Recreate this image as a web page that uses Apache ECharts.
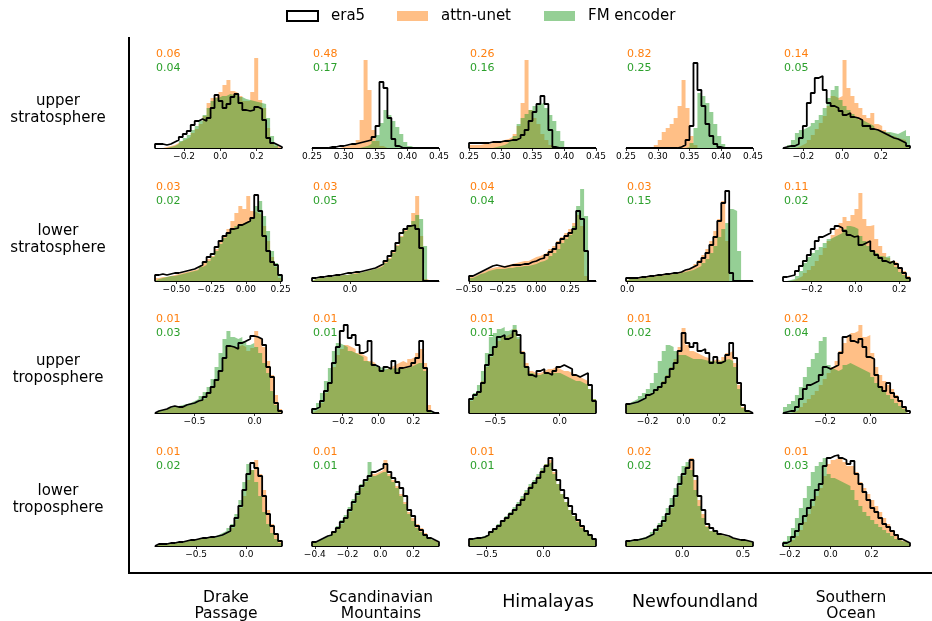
<!DOCTYPE html>
<html>
<head>
<meta charset="utf-8">
<script src="https://cdn.jsdelivr.net/npm/echarts@6/dist/echarts.min.js"></script>
<style>
  html, body { margin: 0; background: #fff; }
  #chart { width: 932px; height: 621px; }
</style>
</head>
<body>
<div id="chart"></div>
<script>
// columns / rows of the panel grid
const regions = ['Drake\nPassage', 'Scandinavian\nMountains', 'Himalayas', 'Newfoundland', 'Southern\nOcean'];
const levels = ['upper\nstratosphere', 'lower\nstratosphere', 'upper\ntroposphere', 'lower\ntroposphere'];
const seriesNames = ['era5', 'attn-unet', 'FM encoder'];

// x range of every panel (row by row), histogram bins span this range
const xRanges = [
  [-0.36, 0.34], [0.25, 0.45], [0.25, 0.45], [0.25, 0.45], [-0.305, 0.35],
  [-0.654, 0.26], [-0.19, 0.445], [-0.5, 0.443], [-0.005, 0.5], [-0.331, 0.249],
  [-0.828, 0.228], [-0.374, 0.345], [-0.703, 0.281], [-0.321, 0.389], [-0.388, 0.179],
  [-0.91, 0.357], [-0.417, 0.358], [-0.656, 0.462], [-0.462, 0.582], [-0.233, 0.388]
];

// tick labels of every panel
const tickLabels = [
  ['−0.2', '0.0', '0.2'], ['0.25', '0.30', '0.35', '0.40', '0.45'], ['0.25', '0.30', '0.35', '0.40', '0.45'], ['0.25', '0.30', '0.35', '0.40', '0.45'], ['−0.2', '0.0', '0.2'],
  ['−0.50', '−0.25', '0.00', '0.25'], ['0.0'], ['−0.50', '−0.25', '0.00', '0.25'], ['0.0'], ['−0.2', '0.0', '0.2'],
  ['−0.5', '0.0'], ['−0.2', '0.0', '0.2'], ['−0.5', '0.0'], ['−0.2', '0.0', '0.2'], ['−0.2', '0.0'],
  ['−0.5', '0.0'], ['−0.4', '−0.2', '0.0', '0.2'], ['−0.5', '0.0'], ['0.0', '0.5'], ['−0.2', '0.0', '0.2']
];

// scores printed in the corner of each panel
const unetScore = ['0.06', '0.48', '0.26', '0.82', '0.14', '0.03', '0.03', '0.04', '0.03', '0.11',
  '0.01', '0.01', '0.01', '0.01', '0.02', '0.01', '0.01', '0.01', '0.02', '0.01'];
const fmScore = ['0.04', '0.17', '0.16', '0.25', '0.05', '0.02', '0.05', '0.04', '0.15', '0.02',
  '0.03', '0.01', '0.01', '0.02', '0.04', '0.02', '0.01', '0.01', '0.02', '0.03'];

// histogram heights (32 bins per panel, scale 0-100 of the panel height)
const era5Hist = [
  [4,4,3,4,6,8,11,14,17,23,27,29,27,30,40,53,47,40,44,51,54,45,38,37,38,41,39,28,10,5,3,1],
  [0,0,0,0,1,1,2,2,3,4,4,5,6,7,8,11,22,66,60,30,9,2,0,0,0,0,0,0,0,0,0,0],
  [5,5,5,5,5,6,6,6,7,7,8,8,10,13,18,27,36,44,52,44,18,1,0,0,0,0,0,0,0,0,0,0],
  [0,0,0,0,0,0,0,0,0,0,0,0,0,1,3,8,22,85,58,42,24,12,4,1,0,0,0,0,0,0,0,0],
  [1,2,2,4,10,22,45,55,70,72,58,45,42,40,37,33,35,31,30,28,22,22,19,18,16,14,12,10,9,7,5,2],
  [6,7,6,7,8,8,9,10,11,12,14,16,19,24,27,34,40,45,48,52,53,56,58,60,63,86,70,45,30,19,16,6],
  [3,4,4,5,5,6,6,7,8,8,9,9,10,11,12,13,15,17,20,25,30,38,48,52,55,56,52,33,0,0,0,0],
  [5,7,9,11,13,15,16,15,14,15,16,16,16,17,17,19,20,22,23,26,29,32,38,42,45,48,52,70,62,30,0,0],
  [3,3,3,4,4,5,5,6,6,7,7,8,8,9,11,12,14,16,19,23,28,36,44,60,78,90,8,0,0,0,0,0],
  [4,5,6,10,15,20,26,32,40,44,46,48,52,55,53,50,46,44,45,36,38,40,30,26,23,20,18,20,17,13,8,3],
  [2,3,4,6,7,6,6,8,9,10,12,13,16,20,26,33,42,55,67,66,64,70,72,74,77,76,74,68,46,36,10,2],
  [4,6,12,22,30,50,66,82,88,75,78,68,60,62,72,48,46,42,46,44,52,40,45,46,47,50,55,72,45,2,0,0],
  [14,18,21,30,48,58,66,76,78,74,76,82,78,60,46,38,36,42,44,40,38,42,46,48,46,44,38,36,38,40,28,12],
  [9,10,11,13,15,18,20,23,26,30,36,44,50,62,80,70,66,70,62,64,60,50,56,50,52,58,70,55,30,8,2,0],
  [1,2,2,6,14,24,28,30,32,38,46,44,46,48,60,76,78,72,70,74,66,56,54,38,26,22,30,20,16,12,6,2],
  [2,2,2,3,3,4,4,5,6,6,7,8,8,9,9,10,11,13,15,20,28,40,56,72,83,78,70,50,32,20,12,5],
  [4,6,8,10,11,14,18,24,28,36,44,52,60,66,70,74,76,78,82,74,68,64,58,50,36,30,20,16,11,8,6,4],
  [7,8,8,9,11,14,17,20,25,28,32,36,41,46,52,58,63,68,74,80,88,76,66,56,48,40,32,26,20,15,11,7],
  [5,6,6,7,8,10,12,16,20,25,32,40,50,62,72,78,86,70,50,36,22,18,15,12,11,10,8,7,6,6,5,4],
  [3,5,9,15,22,30,38,46,56,62,80,88,90,91,88,86,82,85,72,62,54,46,38,34,28,22,19,15,11,7,5,3]
];

const unetHist = [
  [0,0,1,2,3,5,7,9,11,15,19,24,32,45,50,52,56,63,68,57,55,52,47,47,56,90,48,40,20,6,2,0],
  [0,0,0,0,0,0,0,1,2,3,5,8,28,88,58,18,7,2,0,0,0,0,0,0,0,0,0,0,0,0,0,0],
  [3,3,3,4,4,5,6,7,8,9,11,14,22,45,88,38,30,24,14,8,3,1,0,0,0,0,0,0,0,0,0,0],
  [0,0,0,0,0,0,0,3,8,16,20,24,30,42,68,40,12,3,0,0,0,0,0,0,0,0,0,0,0,0,0,0],
  [0,0,0,1,3,5,8,13,19,25,32,42,52,50,52,88,60,52,45,40,33,30,35,24,22,18,15,12,10,9,8,3],
  [3,4,4,5,6,7,8,9,10,11,12,15,18,22,25,32,40,45,52,60,68,75,72,85,70,68,66,55,40,24,14,3],
  [2,3,3,4,4,5,5,6,6,7,8,8,9,10,11,12,14,16,19,23,29,36,45,52,56,68,85,45,2,0,0,0],
  [4,6,8,10,12,13,14,14,15,16,17,18,19,20,20,22,24,25,27,29,32,35,40,44,48,52,58,66,55,5,0,0],
  [2,2,3,3,4,4,5,5,6,6,7,8,8,9,10,12,14,17,21,26,32,40,50,62,80,40,0,0,0,0,0,0],
  [0,0,1,3,5,8,11,15,20,26,33,40,46,52,58,64,60,66,72,88,62,55,56,42,35,28,23,20,18,14,10,5],
  [1,2,4,5,6,6,6,7,8,9,11,13,15,19,25,32,42,55,66,66,66,68,66,62,65,82,75,66,52,38,18,4],
  [2,4,10,20,30,46,58,64,68,66,64,60,58,56,52,50,46,42,44,46,48,50,52,50,54,56,60,64,50,8,0,0],
  [12,16,22,32,46,56,66,72,76,78,80,84,74,62,50,42,40,40,42,44,44,46,44,42,42,40,38,36,34,32,24,14],
  [8,9,10,12,14,17,20,23,27,32,38,46,54,66,85,68,62,60,58,56,55,52,54,52,56,60,62,50,28,6,1,0],
  [0,0,1,3,6,10,14,18,22,28,34,40,46,52,62,70,76,80,82,88,76,78,60,46,38,32,28,24,18,12,6,2],
  [1,1,2,2,3,3,4,5,5,6,7,7,8,8,8,9,10,12,14,18,26,38,50,66,76,86,72,56,36,22,12,5],
  [3,5,7,9,10,13,17,22,27,34,42,50,58,64,68,72,74,76,86,72,66,60,52,44,34,28,22,18,13,9,6,4],
  [6,7,8,9,11,14,17,21,25,29,33,37,42,48,54,60,64,70,76,82,86,74,62,52,44,36,30,25,20,14,10,6],
  [4,5,5,6,7,9,11,14,18,23,30,38,48,60,70,80,88,66,46,32,20,15,13,11,10,9,8,7,6,5,5,4],
  [1,3,6,10,16,24,32,40,50,58,70,82,86,88,88,84,80,80,74,64,58,52,46,40,34,28,22,16,12,8,5,3]
];

const fmHist = [
  [0,0,0,1,2,4,7,10,13,18,22,27,33,40,47,50,52,52,54,53,54,51,49,48,47,46,45,44,30,12,4,0],
  [0,0,0,0,0,0,0,0,0,0,0,0,1,2,4,7,13,25,38,33,27,21,14,6,2,0,0,0,0,0,0,0],
  [0,0,0,0,0,0,1,2,3,5,8,12,24,30,34,38,42,44,45,40,33,27,17,7,1,0,0,0,0,0,0,0],
  [0,0,0,0,0,0,0,0,0,0,0,0,0,0,0,1,5,20,55,52,45,36,24,12,4,1,0,0,0,0,0,0],
  [0,3,8,15,18,20,22,25,28,33,40,50,58,62,48,42,38,34,31,28,26,24,22,18,17,16,16,15,14,16,18,12],
  [2,3,4,5,5,6,7,8,9,10,11,14,16,20,24,30,37,43,48,52,55,57,59,60,64,75,80,65,50,30,18,6],
  [2,3,3,4,4,5,5,6,6,7,7,8,9,10,11,12,13,15,18,22,28,35,44,50,55,60,66,62,35,0,0,0],
  [3,5,7,8,10,11,12,12,12,13,13,14,14,15,15,16,17,19,20,22,25,28,32,38,42,46,55,75,92,65,0,0],
  [2,2,2,3,3,4,4,5,5,6,6,7,7,8,9,10,11,13,15,18,22,28,35,44,52,58,72,70,30,0,0,0],
  [0,1,2,5,10,18,24,28,31,34,38,42,44,46,48,52,55,54,52,45,40,35,31,28,25,24,25,20,14,9,6,3],
  [2,3,4,6,7,7,8,9,10,12,14,17,21,26,34,46,60,74,82,76,74,76,72,68,70,66,60,50,40,22,8,1],
  [5,10,20,32,45,62,70,68,66,62,60,58,56,52,50,48,46,45,44,44,45,44,44,45,46,48,50,50,42,2,0,0],
  [14,20,28,42,60,76,80,84,86,82,84,88,76,60,46,40,38,38,40,40,40,40,40,38,36,34,32,32,30,28,24,14],
  [10,12,14,17,20,24,30,40,52,62,68,66,62,58,58,56,54,54,54,53,52,52,51,52,53,54,52,46,24,5,1,0],
  [6,9,12,18,26,36,46,54,60,72,76,48,44,42,44,48,50,48,46,44,42,40,36,30,26,22,18,14,10,7,4,2],
  [1,1,2,2,3,3,4,5,5,6,7,7,8,8,9,11,13,15,18,22,32,46,64,82,76,64,50,34,22,13,7,3],
  [4,6,8,10,12,15,20,26,31,39,47,55,62,66,84,70,72,74,74,70,64,58,50,42,32,25,18,14,10,7,5,3],
  [7,8,9,10,12,15,18,22,26,30,34,39,44,50,56,62,66,72,78,82,84,72,62,52,44,36,30,24,18,14,10,6],
  [5,6,7,8,9,11,14,18,23,30,38,48,58,70,80,84,76,56,40,28,19,15,13,11,10,9,8,7,6,5,5,4],
  [5,10,18,28,38,48,60,74,80,84,88,72,68,66,64,62,60,56,46,40,34,30,26,22,19,16,13,10,7,5,4,3]
];

const FONT = 'DejaVu Sans';
const ORANGE = '#ff7f0e';
const GREEN = '#2ca02c';
const W = 127, H = 100;
const colLeft = [155, 312, 469, 626, 783];
const rowBase = [148, 281, 413, 546];
const rowMid = [110, 240, 370, 500];
const colMid = [226, 381, 548, 695, 851];

// bin edges -> points for a step line
function stepData(hist, range) {
  const lo = range[0], hi = range[1], w = (hi - lo) / hist.length;
  const pts = [[lo, 0]];
  hist.forEach((h, k) => pts.push([lo + k * w, h]));
  pts.push([hi, hist[hist.length - 1]], [hi, 0]);
  return pts;
}

const grid = [], xAxis = [], yAxis = [], series = [], graphic = [];

for (let r = 0; r < 4; r++) {
  for (let c = 0; c < 5; c++) {
    const p = r * 5 + c;
    const range = xRanges[p];
    const labels = tickLabels[p];
    const values = labels.map(s => parseFloat(s.replace('−', '-')));
    grid.push({ left: colLeft[c], top: rowBase[r] - H, width: W, height: H });
    xAxis.push({
      gridIndex: p, type: 'value', min: range[0], max: range[1],
      splitLine: { show: false },
      axisLine: { onZero: false, lineStyle: { color: '#000', width: 1 } },
      axisTick: { customValues: values, length: 3, lineStyle: { color: '#000', width: 0.8 } },
      axisLabel: {
        customValues: values, margin: 4, fontSize: 9, color: '#000', fontFamily: FONT,
        formatter: v => {
          const i = values.findIndex(t => Math.abs(t - v) < 1e-9);
          return i < 0 ? '' : labels[i];
        }
      }
    });
    yAxis.push({ gridIndex: p, type: 'value', min: 0, max: 100, show: false });

    series.push({
      name: seriesNames[1], type: 'line', xAxisIndex: p, yAxisIndex: p, step: 'end',
      symbol: 'none', silent: true, lineStyle: { width: 0, opacity: 0 },
      areaStyle: { color: 'rgba(255,127,14,0.5)', opacity: 1 },
      data: stepData(unetHist[p], range)
    });
    series.push({
      name: seriesNames[2], type: 'line', xAxisIndex: p, yAxisIndex: p, step: 'end',
      symbol: 'none', silent: true, lineStyle: { width: 0, opacity: 0 },
      areaStyle: { color: 'rgba(44,160,44,0.5)', opacity: 1 },
      data: stepData(fmHist[p], range)
    });
    series.push({
      name: seriesNames[0], type: 'line', xAxisIndex: p, yAxisIndex: p, step: 'end',
      symbol: 'none', silent: true, clip: false,
      lineStyle: { color: '#000', width: 1.8 },
      data: stepData(era5Hist[p], range)
    });

    // scores
    graphic.push({
      type: 'text', x: colLeft[c] + 1, y: rowBase[r] - 94,
      style: { text: unetScore[p], fill: ORANGE, fontSize: 11, fontFamily: FONT, verticalAlign: 'middle' }
    });
    graphic.push({
      type: 'text', x: colLeft[c] + 1, y: rowBase[r] - 80,
      style: { text: fmScore[p], fill: GREEN, fontSize: 11, fontFamily: FONT, verticalAlign: 'middle' }
    });
  }
}

// row and column titles
levels.forEach((t, r) => graphic.push({
  type: 'text', x: 58, y: rowMid[r],
  style: { text: t, fill: '#000', fontSize: 15, fontFamily: FONT, align: 'center', verticalAlign: 'middle', lineHeight: 17 }
}));
regions.forEach((t, c) => {
  const twoLines = t.indexOf('\n') >= 0;
  graphic.push({
    type: 'text', x: colMid[c], y: twoLines ? 606 : 602,
    style: {
      text: t, fill: '#000', fontSize: twoLines ? 15.5 : 17.5, fontFamily: FONT,
      align: 'center', verticalAlign: 'middle', lineHeight: 16
    }
  });
});

// outer L-shaped frame
graphic.push({
  type: 'polyline', shape: { points: [[129, 37], [129, 573], [932, 573]] },
  style: { stroke: '#000', lineWidth: 2, fill: null }
});

// legend
const legendX = [287, 397, 544];
const legendFill = [null, 'rgba(255,127,14,0.5)', 'rgba(44,160,44,0.5)'];
seriesNames.forEach((n, i) => {
  graphic.push({
    type: 'rect', shape: { x: legendX[i], y: 11, width: 31, height: 10 },
    style: i === 0 ? { fill: null, stroke: '#000', lineWidth: 2 } : { fill: legendFill[i] }
  });
  graphic.push({
    type: 'text', x: legendX[i] + 44, y: 16,
    style: { text: n, fill: '#000', fontSize: 15, fontFamily: FONT, verticalAlign: 'middle' }
  });
});

const chart = echarts.init(document.getElementById('chart'));
chart.setOption({
  animation: false,
  backgroundColor: '#fff',
  grid, xAxis, yAxis, series, graphic
});
</script>
</body>
</html>
